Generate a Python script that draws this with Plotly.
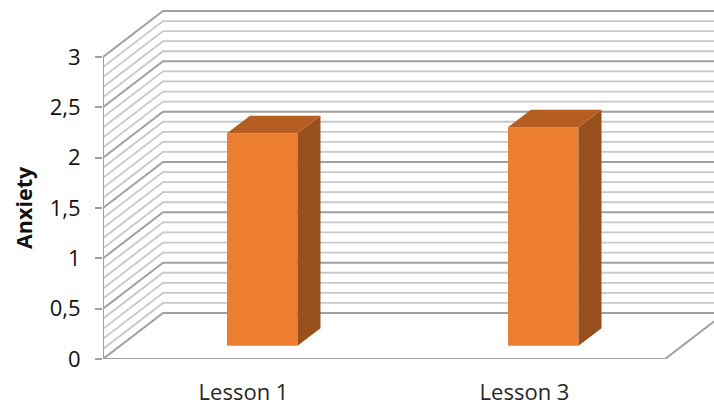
import plotly.graph_objects as go

categories = ["Lesson 1", "Lesson 3"]
category_positions = [0, 1]
anxiety = [2.11, 2.17]
y_ticks = [0, 0.5, 1, 1.5, 2, 2.5, 3]
y_tick_labels = ["0", "0,5", "1", "1,5", "2", "2,5", "3"]
minor_grid = [0.1, 0.2, 0.3, 0.4, 0.6, 0.7, 0.8, 0.9, 1.1, 1.2, 1.3, 1.4,
              1.6, 1.7, 1.8, 1.9, 2.1, 2.2, 2.3, 2.4, 2.6, 2.7, 2.8, 2.9]
y_title = "Anxiety"

PX_X = 281.0
PX_Y = 100.67
X_LEFT, X_RIGHT_FLOOR = -0.5, 1.5
WALL_DX, WALL_DY = 60 / PX_X, 46 / PX_Y
BAR_DX, BAR_DY = 23 / PX_X, 17.5 / PX_Y
BAR_BASE = 13.3 / PX_Y
BAR_SHIFT = 18.75 / PX_X
BAR_W = 70.5 / PX_X
X_MAX = X_LEFT + 611 / PX_X
Y_MAX = 359 / PX_Y

FRONT, TOP, SIDE = "#ED7D31", "#B55D22", "#97501C"
MAJOR, MINOR, AXIS = "#A0A0A0", "#C8C8C8", "#A0A0A0"

shapes = []
for vals, col in ((minor_grid, MINOR), (y_ticks, MAJOR)):
    for v in vals:
        x1, y1 = X_LEFT + WALL_DX, v + WALL_DY
        path = f"M {X_LEFT} {v} L {x1} {y1} L {X_MAX} {y1}"
        shapes.append(dict(type="path", path=path, xref="x", yref="y", layer="below",
                           line=dict(color=col, width=2 if vals is y_ticks else 1.8)))

fig = go.Figure()
xs = [p + BAR_SHIFT for p in category_positions]
fig.add_trace(go.Bar(x=xs, y=anxiety, base=BAR_BASE, width=BAR_W,
                     marker=dict(color=FRONT, line=dict(width=0)), showlegend=False))
for x, v in zip(xs, anxiety):
    l, r = x - BAR_W / 2, x + BAR_W / 2
    t = BAR_BASE + v
    fig.add_trace(go.Scatter(x=[r, r + BAR_DX, r + BAR_DX, r, r],
                             y=[BAR_BASE, BAR_BASE + BAR_DY, t + BAR_DY, t, BAR_BASE],
                             mode="lines", fill="toself", fillcolor=SIDE,
                             line=dict(width=0, color=SIDE), showlegend=False))
    fig.add_trace(go.Scatter(x=[l, l + BAR_DX, r + BAR_DX, r, l],
                             y=[t, t + BAR_DY, t + BAR_DY, t, t],
                             mode="lines", fill="toself", fillcolor=TOP,
                             line=dict(width=0, color=TOP), showlegend=False))

fig.add_trace(go.Scatter(x=[X_LEFT, X_LEFT], y=[0, 3], mode="lines", cliponaxis=False,
                         line=dict(color=AXIS, width=2), showlegend=False))
fig.add_trace(go.Scatter(x=[X_LEFT, X_RIGHT_FLOOR, X_RIGHT_FLOOR + WALL_DX],
                         y=[0, 0, WALL_DY], mode="lines", cliponaxis=False,
                         line=dict(color=AXIS, width=2), showlegend=False))

font = "'Open Sans', sans-serif"
fig.update_layout(
    width=714, height=405, autosize=False,
    margin=dict(l=103, r=0, t=0, b=46),
    paper_bgcolor="white", plot_bgcolor="white",
    font=dict(family=font, size=22, color="#262626"),
    shapes=shapes, showlegend=False, hovermode=False,
    annotations=[dict(text=f"<b>{y_title}</b>", textangle=-90, showarrow=False,
                      xref="paper", yref="paper", xanchor="center", yanchor="middle",
                      x=(23 - 103) / 611, y=(359 - 208) / 359,
                      font=dict(size=21.5, color="#111111"))],
    xaxis=dict(range=[X_LEFT, X_MAX], tickvals=category_positions, ticktext=categories,
               showgrid=False, zeroline=False, showline=False, ticks="",
               ticklabelstandoff=18, tickfont=dict(size=22, color="#262626")),
    yaxis=dict(range=[0, Y_MAX], tickvals=y_ticks, ticktext=y_tick_labels,
               showgrid=False, zeroline=False, showline=False,
               ticks="outside", ticklen=7, tickwidth=1.5, tickcolor=AXIS,
               ticklabelstandoff=10,
               tickfont=dict(size=22, color="#111111")),
)
fig.write_html("out.html", config={"displayModeBar": False},
               post_script="document.body.style.margin='0';document.body.style.overflow='hidden';")
